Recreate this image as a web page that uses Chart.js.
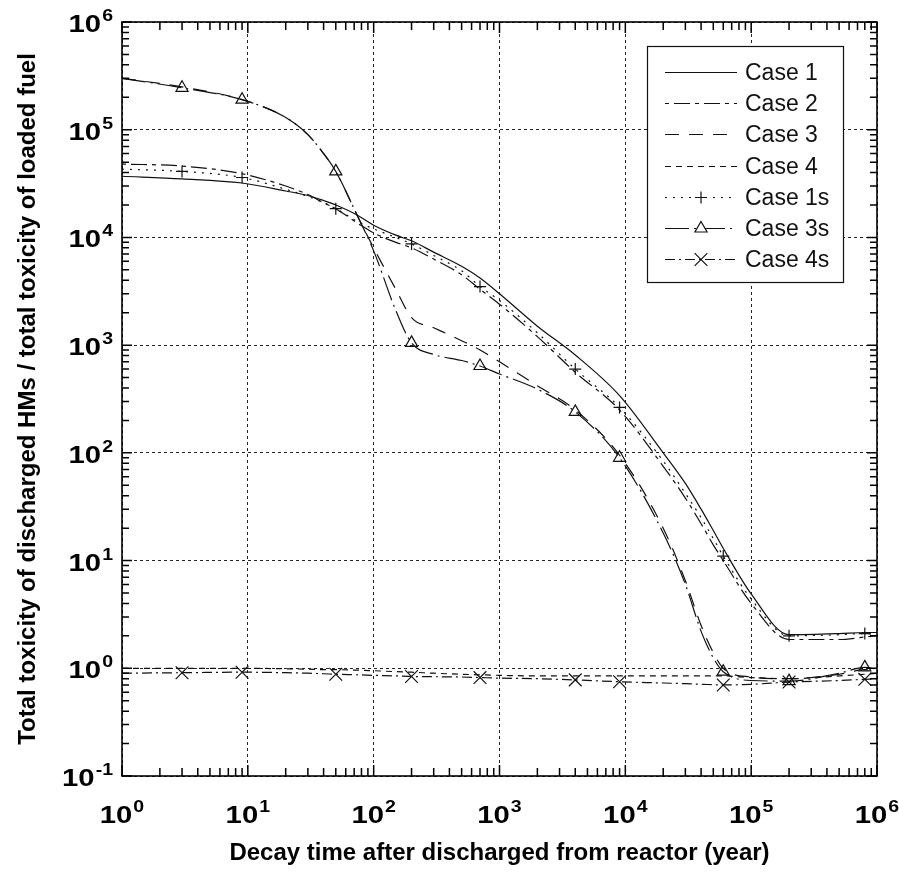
<!DOCTYPE html>
<html>
<head>
<meta charset="utf-8">
<script src="https://cdn.jsdelivr.net/npm/chart.js@4"></script>
<style>
  html, body { margin: 0; padding: 0; background: #fff; }
  #wrap { width: 899px; height: 883px; position: relative; }
</style>
</head>
<body>
<div id="wrap"><canvas id="c"></canvas></div>
<script>
// Decay time grid (years)
const years = [1, 3, 9, 20, 30, 40, 50, 75, 100, 150, 200, 300, 500, 700, 1000, 2000, 4000, 9000,
  2e4, 3e4, 4e4, 5e4, 6e4, 1e5, 2e5, 5e5, 8e5, 1e6];

// Toxicity ratio (discharged HMs / loaded fuel) for each case
const case1 = [3.7e4, 3.5e4, 3.2e4, 2.7e4, 2.45e4, 2.2e4, 2.0e4, 1.6e4, 1.3e4, 1.05e4, 9.3e3, 7.3e3, 5.4e3, 4.2e3, 3.0e3, 1.5e3, 810, 340,
  100, 52, 30, 19, 13, 4.9, 2.05, 2.1, 2.15, 2.15];
const case2 = [4.8e4, 4.6e4, 3.9e4, 3.0e4, 2.5e4, 2.1e4, 1.85e4, 1.35e4, 1.1e4, 9.0e3, 8.0e3, 6.3e3, 4.5e3, 3.3e3, 2.4e3, 1.2e3, 560, 250,
  75, 38, 22, 14, 10, 4.0, 1.85, 1.85, 1.95, 2.0];
const case3 = [3.0e5, 2.5e5, 1.9e5, 1.3e5, 9.0e4, 6.0e4, 4.1e4, 1.55e4, 8.0e3, 3.3e3, 1.8e3, 1.45e3, 1.1e3, 900, 700, 420, 250, 95,
  20, 6.5, 2.5, 1.4, 1.0, 0.83, 0.8, 0.88, 0.97, 0.95];
const case4 = [1.0, 1.0, 1.0, 0.99, 0.98, 0.97, 0.97, 0.96, 0.95, 0.93, 0.92, 0.9, 0.88, 0.87, 0.86, 0.85, 0.85, 0.85,
  0.85, 0.85, 0.85, 0.85, 0.85, 0.82, 0.8, 0.85, 0.88, 0.9];
const case1s = [4.3e4, 4.1e4, 3.6e4, 2.8e4, 2.4e4, 2.1e4, 1.85e4, 1.4e4, 1.2e4, 1.0e4, 8.7e3, 6.8e3, 4.9e3, 3.5e3, 2.6e3, 1.3e3, 600, 264,
  84, 42, 25, 16, 11, 4.4, 2.0, 2.05, 2.1, 2.05];
const case3s = [3.0e5, 2.45e5, 1.9e5, 1.3e5, 9.0e4, 6.0e4, 4.1e4, 1.55e4, 7.5e3, 2.1e3, 1.05e3, 820, 720, 640, 540, 390, 240, 90,
  18, 6.0, 2.2, 1.25, 0.93, 0.77, 0.76, 0.9, 1.02, 0.98];
const case4s = [0.9, 0.91, 0.92, 0.91, 0.9, 0.89, 0.88, 0.87, 0.86, 0.85, 0.84, 0.835, 0.83, 0.82, 0.81, 0.8, 0.78, 0.75,
  0.73, 0.72, 0.71, 0.705, 0.70, 0.71, 0.745, 0.77, 0.79, 0.8];

// Years at which the symbol markers are placed
const markerYears = [3, 9, 50, 200, 700, 4000, 9000, 6e4, 2e5, 8e5];

// Axis decades (exponents of ten)
const xDecades = [0, 1, 2, 3, 4, 5, 6];
const yDecades = [-1, 0, 1, 2, 3, 4, 5, 6];

const xTitle = 'Decay time after discharged from reactor (year)';
const yTitle = 'Total toxicity of discharged HMs / total toxicity of loaded fuel';

const INK = '#111';
const toPoints = arr => years.map((x, i) => ({ x, y: arr[i] }));

function series(label, arr, dash, style, radius) {
  return {
    label,
    data: toPoints(arr),
    borderColor: INK,
    borderWidth: 1.2,
    borderDash: dash,
    fill: false,
    cubicInterpolationMode: 'monotone',
    pointStyle: style || 'circle',
    pointBorderColor: INK,
    pointBackgroundColor: 'rgba(0,0,0,0)',
    pointBorderWidth: 1.2,
    pointRadius: style ? (ctx => (ctx.raw && markerYears.includes(ctx.raw.x)) ? radius : 0) : 0,
    pointHoverRadius: 0
  };
}

const datasets = [
  series('Case 1', case1, []),
  series('Case 2', case2, [4, 5, 16, 5]),
  series('Case 3', case3, [14, 10]),
  series('Case 4', case4, [6, 5]),
  series('Case 1s', case1s, [2, 6], 'cross', 6),
  series('Case 3s', case3s, [24, 5, 2, 5], 'triangle', 7),
  series('Case 4s', case4s, [10, 4, 2, 4], 'crossRot', 9)
];

const isDecade = v => Math.abs(Math.log10(v) - Math.round(Math.log10(v))) < 1e-9;
const FONT = '"Liberation Sans", Arial, sans-serif';

// Draws "10" with a raised exponent; anchor = 'right' (y axis) or 'center' (x axis)
function drawPower(ctx, exp, x, baseY, anchor) {
  const sx = 1.22;
  ctx.font = 'bold 24px ' + FONT;
  const w10 = ctx.measureText('10').width * sx;
  ctx.font = 'bold 16px ' + FONT;
  const wExp = ctx.measureText(String(exp)).width * sx;
  const total = w10 + 1 + wExp;
  const x0 = anchor === 'right' ? x - total : x - total / 2;
  ctx.save();
  ctx.translate(x0, baseY);
  ctx.scale(sx, 1);
  ctx.font = 'bold 24px ' + FONT;
  ctx.fillText('10', 0, 0);
  ctx.restore();
  ctx.save();
  ctx.translate(x0 + w10 + 1, baseY - 11);
  ctx.scale(sx, 1);
  ctx.font = 'bold 16px ' + FONT;
  ctx.fillText(String(exp), 0, 0);
  ctx.restore();
}

const frame = {
  id: 'frame',
  afterDraw(chart) {
    const { ctx, chartArea: a, scales } = chart;
    const xs = scales.x, ys = scales.y;
    ctx.save();
    ctx.strokeStyle = '#000';
    ctx.fillStyle = '#000';
    ctx.lineWidth = 1.5;
    ctx.setLineDash([]);

    // inward tick marks on all four sides
    for (const d of xDecades) {
      for (let k = 1; k <= 9; k++) {
        const v = k * Math.pow(10, d);
        if (v > 1e6 * 1.0001) break;
        const px = xs.getPixelForValue(v);
        const len = k === 1 ? 11 : 8;
        ctx.beginPath();
        ctx.moveTo(px, a.bottom); ctx.lineTo(px, a.bottom - len);
        ctx.moveTo(px, a.top); ctx.lineTo(px, a.top + len);
        ctx.stroke();
      }
    }
    for (const d of yDecades) {
      for (let k = 1; k <= 9; k++) {
        const v = k * Math.pow(10, d);
        if (v > 1e6 * 1.0001) break;
        const py = ys.getPixelForValue(v);
        const len = k === 1 ? 10 : 7;
        ctx.beginPath();
        ctx.moveTo(a.left, py); ctx.lineTo(a.left + len, py);
        ctx.moveTo(a.right, py); ctx.lineTo(a.right - len, py);
        ctx.stroke();
      }
    }

    // plot box
    ctx.lineWidth = 1.6;
    ctx.strokeRect(a.left, a.top, a.right - a.left, a.bottom - a.top);

    // tick labels
    ctx.textBaseline = 'alphabetic';
    ctx.textAlign = 'left';
    for (const d of yDecades) {
      const py = ys.getPixelForValue(Math.pow(10, d));
      drawPower(ctx, d, a.left - 9, py + 10, 'right');
    }
    for (const d of xDecades) {
      const px = xs.getPixelForValue(Math.pow(10, d));
      drawPower(ctx, d, px, a.bottom + 47, 'center');
    }

    // axis titles
    ctx.font = 'bold 24px ' + FONT;
    ctx.textAlign = 'center';
    ctx.fillText(xTitle, (a.left + a.right) / 2, 860);
    ctx.save();
    ctx.translate(35, (a.top + a.bottom) / 2);
    ctx.rotate(-Math.PI / 2);
    ctx.fillText(yTitle, 0, 0);
    ctx.restore();

    // legend box
    const L = { x: 647, y: 46, w: 196, h: 236, row0: 72, step: 31.2 };
    ctx.fillStyle = '#fff';
    ctx.fillRect(L.x, L.y, L.w, L.h);
    ctx.lineWidth = 1.2;
    ctx.strokeStyle = INK;
    ctx.strokeRect(L.x + 0.5, L.y + 0.5, L.w, L.h);
    chart.data.datasets.forEach((ds, i) => {
      const y = Math.round(L.row0 + i * L.step) + 0.5;
      ctx.save();
      ctx.lineWidth = 1.2;
      ctx.strokeStyle = INK;
      ctx.setLineDash(ds.borderDash || []);
      ctx.beginPath();
      ctx.moveTo(665, y); ctx.lineTo(737, y);
      ctx.stroke();
      ctx.restore();
      if (ds.pointStyle && ds.pointStyle !== 'circle') {
        const r = ds.pointStyle === 'cross' ? 6 : ds.pointStyle === 'triangle' ? 7 : 9;
        ctx.save();
        ctx.lineWidth = 1.2;
        ctx.strokeStyle = INK;
        ctx.fillStyle = '#fff';
        Chart.helpers.drawPoint(ctx, { pointStyle: ds.pointStyle, radius: r, borderWidth: 1.2, rotation: 0 }, 701, y);
        ctx.restore();
      }
      ctx.fillStyle = '#111';
      ctx.font = '23px ' + FONT;
      ctx.textAlign = 'left';
      ctx.textBaseline = 'middle';
      ctx.fillText(ds.label, 745, y + 1);
    });
    ctx.restore();
  }
};

new Chart(document.getElementById('c'), {
  type: 'line',
  data: { datasets },
  plugins: [frame],
  options: {
    responsive: true,
    maintainAspectRatio: false,
    animation: false,
    layout: { padding: { top: 22, right: 22, left: 0, bottom: 0 } },
    plugins: { legend: { display: false }, tooltip: { enabled: false } },
    scales: {
      x: {
        type: 'logarithmic',
        min: 1, max: 1e6,
        ticks: { display: false },
        grid: {
          drawTicks: false,
          lineWidth: 1,
          color: c => (c.tick && isDecade(c.tick.value)) ? '#222' : 'rgba(0,0,0,0)'
        },
        border: { display: false, dash: [3, 3] },
        afterFit: s => { s.height = 107; }
      },
      y: {
        type: 'logarithmic',
        min: 0.1, max: 1e6,
        ticks: { display: false },
        grid: {
          drawTicks: false,
          lineWidth: 1,
          color: c => (c.tick && isDecade(c.tick.value)) ? '#222' : 'rgba(0,0,0,0)'
        },
        border: { display: false, dash: [3, 3] },
        afterFit: s => { s.width = 122; }
      }
    }
  }
});
</script>
</body>
</html>
